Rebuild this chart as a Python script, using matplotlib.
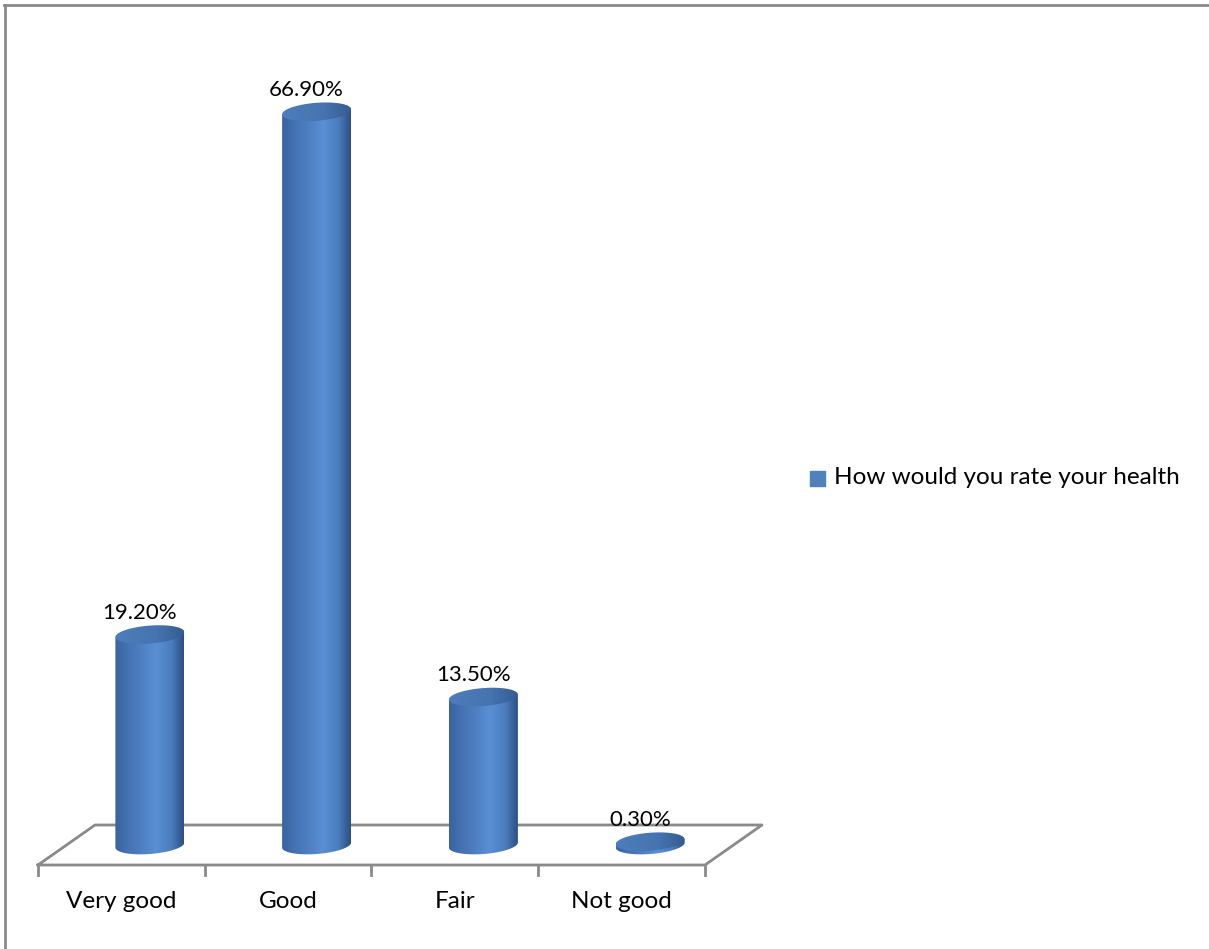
import numpy as np
import matplotlib.pyplot as plt
from matplotlib.path import Path
from matplotlib.patches import PathPatch, Rectangle
from matplotlib.colors import LinearSegmentedColormap
from matplotlib.lines import Line2D

categorias = ["Very good", "Good", "Fair", "Not good"]
valores = [19.2, 66.9, 13.5, 0.3]
etiquetas = ["19.20%", "66.90%", "13.50%", "0.30%"]
serie = "How would you rate your health"

plt.rcParams["font.family"] = ["Lato", "DejaVu Sans"]

W, H = 1209, 949
fig = plt.figure(figsize=(W / 100, H / 100), dpi=100)

# escala: pixeles por unidad
px_x = 166.75
px_y = 10.96
x0, y0 = 38, 865
ux = 1 / px_x
uy = 1 / px_y

ax = fig.add_axes([x0 / W, (H - y0) / H, 4 * px_x / W, (y0 - 40) / H])
ax.axis("off")

gris = "#8a8a8a"
fondo_x = 57 * ux
fondo_y = 40 * uy
dx = fondo_x / 2
dy = fondo_y / 2

# piso
ax.plot([-0.5, 3.5, 3.5 + fondo_x, -0.5 + fondo_x, -0.5],
        [0, 0, fondo_y, fondo_y, 0], color=gris, lw=2, clip_on=False, zorder=1)
for k in range(len(categorias) + 1):
    ax.plot([k - 0.5, k - 0.5], [0, -10 * uy], color=gris, lw=2, clip_on=False, zorder=1)

for i, cat in enumerate(categorias):
    ax.text(i, -36 * uy, cat, ha="center", va="center", fontsize=17.5)

cmap_cuerpo = LinearSegmentedColormap.from_list(
    "cuerpo", [(0, "#3a63a0"), (0.2, "#4573b3"), (0.6, "#5a8fd5"), (0.82, "#4a7dbd"), (1, "#2c4f84")])
cmap_tapa = LinearSegmentedColormap.from_list("tapa", [(0, "#4d7dbc"), (0.6, "#4674b0"), (1, "#355c92")])
grad = np.linspace(0, 1, 256).reshape(1, -1)

a = 34.5 * ux
b = 9 * uy
s = 2.5 * uy
t_arco = np.linspace(np.pi, 2 * np.pi, 80)
t_full = np.linspace(0, 2 * np.pi, 160)

for i, v in enumerate(valores):
    cx = i + dx
    base = dy
    top = dy + v

    xs = cx + a * np.cos(t_arco)
    ys = base + b * np.sin(t_arco) + s * np.cos(t_arco)
    verts = [(cx - a, top - s)] + list(zip(xs, ys)) + [(cx + a, top + s), (cx - a, top - s)]
    cuerpo = PathPatch(Path(verts), facecolor="none", edgecolor="none")
    ax.add_patch(cuerpo)
    im = ax.imshow(grad, cmap=cmap_cuerpo, extent=[cx - a, cx + a, base - b - s, top + s],
                   aspect="auto", interpolation="bilinear", zorder=2)
    im.set_clip_path(cuerpo)

    xt = cx + a * np.cos(t_full)
    yt = top + b * np.sin(t_full) + s * np.cos(t_full)
    tapa = PathPatch(Path(list(zip(xt, yt))), facecolor="none", edgecolor="none")
    ax.add_patch(tapa)
    im2 = ax.imshow(grad, cmap=cmap_tapa, extent=[cx - a, cx + a, top - b - s, top + b + s],
                    aspect="auto", interpolation="bilinear", zorder=3)
    im2.set_clip_path(tapa)

    ax.text(cx - 0.06, top + 22 * uy, etiquetas[i], ha="center", va="center", fontsize=16, zorder=4)

ax.set_xlim(-0.5, 3.5)
ax.set_ylim(0, (y0 - 40) / px_y)

# leyenda
fig.patches.append(Rectangle((810 / W, 1 - 486 / H), 15 / W, 15 / H, color="#4f81bd",
                             transform=fig.transFigure, figure=fig))
fig.text(834 / W, 1 - 478 / H, serie, va="center", fontsize=17.5)

# borde
fig.add_artist(Line2D([4.5 / W, 4.5 / W], [0, 1 - 5 / H], color=gris, lw=2))
fig.add_artist(Line2D([4 / W, 1208 / W], [1 - 5 / H, 1 - 5 / H], color=gris, lw=2))

fig.savefig("out.png", dpi=100)
